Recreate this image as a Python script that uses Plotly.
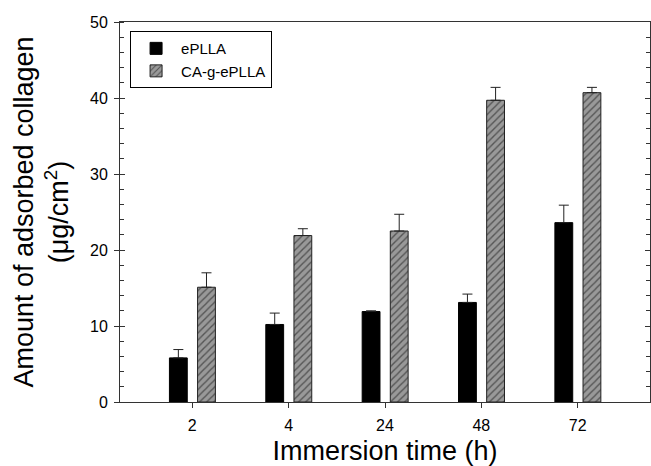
import plotly.graph_objects as go

categories = ["2", "4", "24", "48", "72"]
eplla = [5.8, 10.2, 11.9, 13.1, 23.6]
eplla_err = [1.1, 1.5, 0.1, 1.1, 2.3]
ca = [15.1, 21.9, 22.5, 39.7, 40.7]
ca_err = [1.9, 0.9, 2.2, 1.7, 0.7]
y_ticks = [0, 10, 20, 30, 40, 50]

FONT = "Arial, Liberation Sans, sans-serif"
AX = "#333333"

fig = go.Figure()
fig.add_trace(go.Bar(
    x=categories, y=eplla, name="ePLLA",
    width=0.185, offset=-0.237,
    marker=dict(color="black", line=dict(color="black", width=1)),
    error_y=dict(type="data", symmetric=False, array=eplla_err,
                 arrayminus=[0] * len(eplla), color="#222", thickness=1, width=5),
))
fig.add_trace(go.Bar(
    x=categories, y=ca, name="CA-g-ePLLA",
    width=0.185, offset=0.055,
    marker=dict(color="#999999", line=dict(color="#222", width=1),
                pattern=dict(shape="/", fgcolor="#111", bgcolor="#999999",
                             size=5, solidity=0.28)),
    error_y=dict(type="data", symmetric=False, array=ca_err,
                 arrayminus=[0] * len(ca), color="#222", thickness=1, width=5),
))
# overlay axes for inside ticks (left major cross, right side)
fig.add_trace(go.Scatter(x=[None], y=[None], yaxis="y2", showlegend=False, hoverinfo="skip"))
fig.add_trace(go.Scatter(x=[None], y=[None], yaxis="y3", showlegend=False, hoverinfo="skip"))

fig.update_layout(
    width=651, height=466,
    margin=dict(l=120, r=1, t=22, b=64, autoexpand=False),
    paper_bgcolor="white", plot_bgcolor="white",
    font=dict(family=FONT, color="black"),
    barmode="overlay",
    showlegend=True,
    legend=dict(x=0.019, y=0.976, xanchor="left", yanchor="top",
                bordercolor="black", borderwidth=1, bgcolor="white",
                font=dict(size=15, family=FONT), tracegroupgap=2, itemwidth=40),
    xaxis=dict(type="category", range=[-0.75, 4.75], automargin=False,
               showline=True, linecolor=AX, linewidth=1, mirror=True,
               ticks="outside", ticklen=5, tickcolor=AX, showgrid=False,
               tickfont=dict(size=16), ticklabelstandoff=4,
               title=dict(text="Immersion time (h)", font=dict(size=27), standoff=12)),
    yaxis=dict(range=[0, 50], tickvals=y_ticks, automargin=False,
               showline=True, linecolor=AX, linewidth=1, mirror=True,
               ticks="outside", ticklen=5, tickcolor=AX, showgrid=False, zeroline=False,
               minor=dict(ticks="inside", dtick=2, ticklen=4, tickcolor=AX, showgrid=False),
               tickfont=dict(size=16), ticklabelstandoff=3,
               title=dict(text="Amount of adsorbed collagen<br>(μg/cm<sup>2</sup>)",
                          font=dict(size=27), standoff=13)),
    yaxis2=dict(range=[0, 50], tickvals=y_ticks, overlaying="y", side="right",
                automargin=False,
                ticks="inside", ticklen=5, tickcolor=AX, showticklabels=False,
                showgrid=False, zeroline=False, showline=False,
                minor=dict(ticks="inside", dtick=2, ticklen=4, tickcolor=AX, showgrid=False)),
    yaxis3=dict(range=[0, 50], tickvals=y_ticks, overlaying="y", side="left",
                automargin=False,
                ticks="inside", ticklen=5, tickcolor=AX, showticklabels=False,
                showgrid=False, zeroline=False, showline=False),
)

fig.write_html(
    "out.html",
    config={"displayModeBar": False},
    post_script="document.body.style.margin='0';document.documentElement.style.overflow='hidden';",
)
